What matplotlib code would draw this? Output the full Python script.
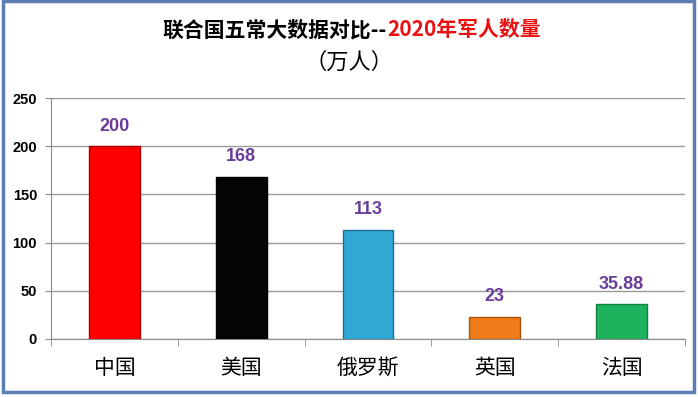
import matplotlib
matplotlib.use('Agg')
import matplotlib.pyplot as plt
from matplotlib.patches import Rectangle
import numpy as np

countries = ['中国', '美国', '俄罗斯', '英国', '法国']
troops = [200, 168, 113, 23, 35.88]
value_labels = ['200', '168', '113', '23', '35.88']
bar_colors = ['#ff0000', '#050505', '#30a8d4', '#f07c1a', '#1db35c']
edge_colors = ['#b00000', '#000000', '#1a6f90', '#a8520c', '#128040']
yticks = [0, 50, 100, 150, 200, 250]

cjk = ['Noto Sans CJK SC', 'DejaVu Sans']
num = ['Liberation Sans', 'DejaVu Sans']

fig = plt.figure(figsize=(6.98, 3.97), dpi=100)
ax = fig.add_axes([51/698, 1-339/397, 634/698, 241/397])

x = np.arange(len(countries))
ax.bar(x, troops, width=0.4, color=bar_colors, edgecolor=edge_colors, linewidth=1.0, zorder=3)
for xi, v, lab in zip(x, troops, value_labels):
    ax.text(xi, v + 12, lab, ha='center', va='bottom', color='#6a3d9a',
            fontsize=13, fontweight='bold', family=num)

ax.set_xlim(-0.5, len(countries) - 0.5)
ax.set_ylim(0, 250)
ax.set_yticks(yticks)
ax.set_yticklabels([str(t) for t in yticks], fontsize=10.5, fontweight='bold', family=num)
ax.yaxis.grid(True, color='#9a9a9a', linewidth=1.0, zorder=0)
ax.set_axisbelow(True)
ax.tick_params(axis='y', length=4, color='#8a8a8a', pad=6)

ax.set_xticks(x)
ax.set_xticklabels(countries, fontsize=15, fontweight='medium', family=cjk)
ax.tick_params(axis='x', which='major', length=0, pad=13)
ax.set_xticks(np.arange(-0.5, len(countries), 1.0), minor=True)
ax.tick_params(axis='x', which='minor', length=5, color='#8a8a8a')

for s in ['top', 'right']:
    ax.spines[s].set_visible(False)
for s in ['left', 'bottom']:
    ax.spines[s].set_color('#8a8a8a')

fig.text(387/698, 1-30/397, '联合国五常大数据对比--', ha='right', va='center',
         fontsize=15, fontweight='bold', color='black', family=cjk)
fig.text(387/698, 1-30/397, '2020年军人数量', ha='left', va='center',
         fontsize=15, fontweight='bold', color='#e81010', family=cjk)
fig.text(349/698, 1-62/397, '（万人）', ha='center', va='center',
         fontsize=16, fontweight='medium', color='black', family=cjk)

fig.patches.append(Rectangle((3/698, 5/397), 691/698, 391/397, transform=fig.transFigure,
                             fill=False, edgecolor='#5b7fb4', linewidth=2.5))

fig.savefig('out.png', dpi=100)
